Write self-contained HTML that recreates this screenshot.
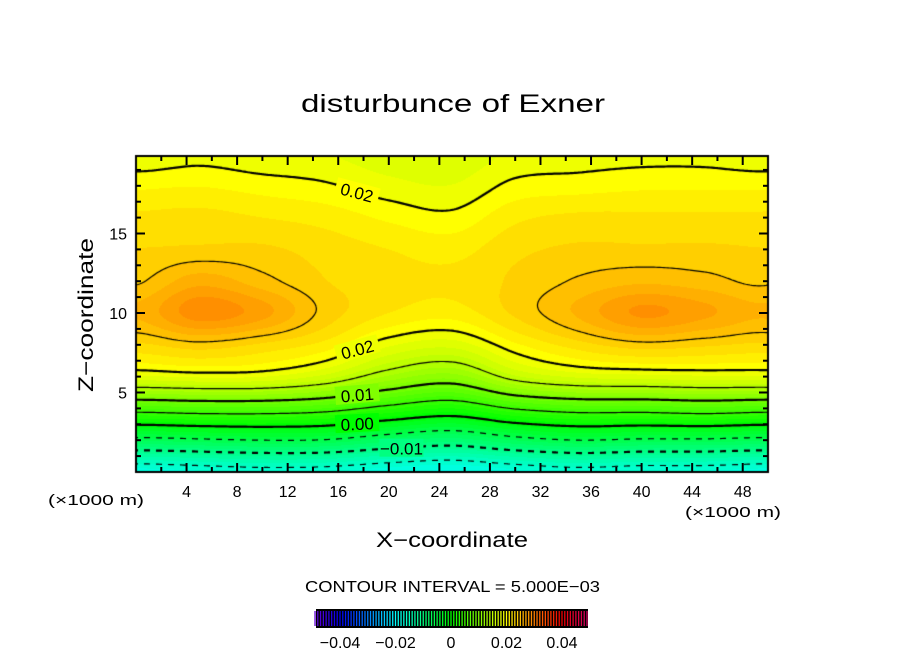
<!DOCTYPE html>
<html><head><meta charset="utf-8"><style>
html,body{margin:0;padding:0;background:#fff;}
#wrap{position:relative;width:904px;height:654px;overflow:hidden;font-family:"Liberation Sans",sans-serif;}
canvas,svg{position:absolute;left:0;top:0;}
</style></head><body>
<div id="wrap">
<canvas id="cv" width="904" height="654"></canvas>
<svg id="sv" width="904" height="654">
<text x="301" y="112" textLength="304" lengthAdjust="spacingAndGlyphs" font-size="25">disturbunce of Exner</text>
<text transform="translate(93,392) rotate(-90)" textLength="154" lengthAdjust="spacingAndGlyphs" font-size="21">Z−coordinate</text>
<text x="376" y="547" textLength="152" lengthAdjust="spacingAndGlyphs" font-size="21">X−coordinate</text>
<text x="48" y="505" textLength="96" lengthAdjust="spacingAndGlyphs" font-size="15">(×1000 m)</text>
<text x="685" y="517" textLength="96" lengthAdjust="spacingAndGlyphs" font-size="15">(×1000 m)</text>
<text x="305" y="592" textLength="295" lengthAdjust="spacingAndGlyphs" font-size="16">CONTOUR INTERVAL = 5.000E−03</text>
<g id="gticks"></g>
<g id="glabels"></g>
<g id="gcbar"></g>
</svg>
</div>
<script>
const xs=[0,5,10,15,20,25,30,35,40,45,50];
const zs=[0,2,4,6,8,10,12,14,16,18,20];
const col0=[-0.017,-0.006,0.0065,0.0185,0.0235,0.0265,0.0248,0.0238,0.0228,0.021,0.019];
const col5=[-0.0165,-0.0055,0.007,0.019,0.0245,0.0295,0.027,0.024,0.023,0.0212,0.0195];
const col10=[-0.016,-0.005,0.007,0.0188,0.0235,0.028,0.0255,0.024,0.0225,0.0207,0.019];
const col15=[-0.0162,-0.0052,0.0062,0.017,0.022,0.0245,0.0238,0.0232,0.022,0.0202,0.0188];
const col20=[-0.0172,-0.007,0.004,0.0135,0.019,0.0225,0.023,0.0225,0.021,0.0192,0.018];
const col25=[-0.0178,-0.0082,0.0025,0.0118,0.018,0.0218,0.0228,0.022,0.0204,0.0188,0.0178];
const col30=[-0.0168,-0.0062,0.0052,0.016,0.021,0.024,0.024,0.0234,0.0222,0.0204,0.019];
const col35=[-0.016,-0.005,0.0065,0.0178,0.0232,0.0265,0.0252,0.024,0.0228,0.0207,0.0193];
const col40=[-0.0165,-0.0055,0.0065,0.0182,0.0245,0.029,0.026,0.024,0.0228,0.021,0.0195];
const col45=[-0.0165,-0.0055,0.007,0.0185,0.024,0.0278,0.0255,0.024,0.0228,0.021,0.0195];
const col50=[-0.017,-0.006,0.0065,0.0185,0.0235,0.0265,0.0248,0.0238,0.0228,0.021,0.019];
const fieldCols=[col0,col5,col10,col15,col20,col25,col30,col35,col40,col45,col50];
const levels=[-0.015,-0.01,-0.005,0,0.005,0.01,0.015,0.02,0.025];
const xTicks=[4,8,12,16,20,24,28,32,36,40,44,48];
const zTicks=[5,10,15];
const cbTicks=[-0.04,-0.02,0,0.02,0.04];
const cbTickText=["−0.04","−0.02","0","0.02","0.04"];
const contourLabels=[{lv:0.02,x:17.5,from:'top',text:'0.02',rot:15},{lv:0.02,x:17.5,from:'mid',text:'0.02',rot:-15},{lv:0.01,x:17.5,from:'bot',text:'0.01',rot:-5},{lv:0,x:17.5,from:'bot',text:'0.00',rot:-3},{lv:-0.01,x:21,from:'bot',text:'−0.01',rot:0}];

const PX0=136,PX1=768,PY0=156,PY1=472,XMAX=50,ZPX=15.9;
const sx=x=>PX0+x/XMAX*(PX1-PX0);
const sz=z=>PY1-z*ZPX;
const ZMAX=(PY1-PY0)/ZPX;

function cr(p0,p1,p2,p3,t){return 0.5*((2*p1)+(-p0+p2)*t+(2*p0-5*p1+4*p2-p3)*t*t+(-p0+3*p1-3*p2+p3)*t*t*t);}
function colVal(c,z){
  const n=zs.length,h=zs[1]-zs[0];let f=z/h;let i=Math.floor(f);if(i<0)i=0;if(i>n-2)i=n-2;const t=f-i;
  const g=k=>c[Math.max(0,Math.min(n-1,k))];
  return cr(g(i-1),g(i),g(i+1),g(i+2),t);
}
function F(x,z){
  const n=xs.length,h=xs[1]-xs[0];let f=x/h;let i=Math.floor(f);if(i>n-2)i=n-2;if(i<0)i=0;const t=f-i;
  const g=k=>{if(k<0)k+=n-1;if(k>n-1)k-=n-1;return colVal(fieldCols[k],z);};
  return cr(g(i-1),g(i),g(i+1),g(i+2),t);
}
function hsl2rgb(h,s,l){h=((h%360)+360)%360;const c=(1-Math.abs(2*l-1))*s,x=c*(1-Math.abs((h/60)%2-1)),m=l-c/2;let r,g,b;
 if(h<60)[r,g,b]=[c,x,0];else if(h<120)[r,g,b]=[x,c,0];else if(h<180)[r,g,b]=[0,c,x];else if(h<240)[r,g,b]=[0,x,c];else if(h<300)[r,g,b]=[x,0,c];else [r,g,b]=[c,0,x];
 return [Math.round((r+m)*255),Math.round((g+m)*255),Math.round((b+m)*255)];}
function colorOf(v){const q=Math.floor(v/0.00125+1e-6)*0.00125;return hsl2rgb(120-q*3000,1,0.5);}

const cv=document.getElementById('cv'),ctx=cv.getContext('2d');
const W=PX1-PX0,H=PY1-PY0;
const img=ctx.createImageData(W,H);
for(let j=0;j<H;j++){const z=(PY1-(PY0+j+0.5))/ZPX;for(let i=0;i<W;i++){const x=(i+0.5)/W*XMAX;const c=colorOf(F(x,z));const k=(j*W+i)*4;img.data[k]=c[0];img.data[k+1]=c[1];img.data[k+2]=c[2];img.data[k+3]=255;}}
ctx.putImageData(img,PX0,PY0);

const S=2,NX=Math.ceil(W/S),NY=Math.ceil(H/S);
const grid=[];for(let j=0;j<=NY;j++){const r=[];const py=Math.min(PY0+j*S,PY1);for(let i=0;i<=NX;i++){const px=Math.min(PX0+i*S,PX1);r.push(F((px-PX0)/W*XMAX,(PY1-py)/ZPX));}grid.push(r);}
ctx.save();ctx.beginPath();ctx.rect(PX0,PY0,W,H);ctx.clip();
levels.forEach(lv=>{
  const thick=Math.abs(Math.round(lv/0.01)*0.01-lv)<1e-9;
  ctx.lineWidth=thick?2.2:1.2;ctx.strokeStyle='#000';ctx.beginPath();
  for(let j=0;j<NY;j++)for(let i=0;i<NX;i++){
    const x0=PX0+i*S,y0=PY0+j*S;
    const a=grid[j][i],b=grid[j][i+1],c=grid[j+1][i+1],d=grid[j+1][i];
    const pts=[];
    const e=(v1,v2,p1,p2)=>{const t=(lv-v1)/(v2-v1);return [p1[0]+(p2[0]-p1[0])*t,p1[1]+(p2[1]-p1[1])*t];};
    const P=[[x0,y0],[x0+S,y0],[x0+S,y0+S],[x0,y0+S]],V=[a,b,c,d];
    for(let k=0;k<4;k++){const v1=V[k],v2=V[(k+1)%4];if((v1<lv)!==(v2<lv))pts.push(e(v1,v2,P[k],P[(k+1)%4]));}
    if(lv<0 && Math.floor(x0/6)%2===1)continue;
    for(let k=0;k+1<pts.length;k+=2){ctx.moveTo(pts[k][0],pts[k][1]);ctx.lineTo(pts[k+1][0],pts[k+1][1]);}
  }
  ctx.stroke();
});
ctx.restore();
ctx.lineWidth=2;ctx.strokeStyle='#000';ctx.strokeRect(PX0,PY0,W,H);

const NS='http://www.w3.org/2000/svg';
function mk(tag,attrs,parent){const el=document.createElementNS(NS,tag);for(const k in attrs)el.setAttribute(k,attrs[k]);parent.appendChild(el);return el;}
const gt=document.getElementById('gticks');
for(let x=2;x<50;x+=2){const L=(x%4===0)?9:5;
  let t=mk('line',{x1:sx(x),x2:sx(x),y1:PY1,y2:PY1-L,stroke:'#000','stroke-width':2},gt);
  
  
  t=mk('line',{x1:sx(x),x2:sx(x),y1:PY0,y2:PY0+L,stroke:'#000','stroke-width':2},gt);
  
  }
for(let z=1;z<ZMAX;z+=1){const L=(z%5===0)?9:5;
  let t=mk('line',{x1:PX0,x2:PX0+L,y1:sz(z),y2:sz(z),stroke:'#000','stroke-width':2},gt);
  
  
  t=mk('line',{x1:PX1,x2:PX1-L,y1:sz(z),y2:sz(z),stroke:'#000','stroke-width':2},gt);
  
  }
xTicks.forEach(x=>{const t=mk('text',{x:sx(x),y:497,'text-anchor':'middle','font-size':16},gt);t.textContent=String(x);
  
  });
zTicks.forEach(z=>{const t=mk('text',{x:127,y:sz(z)+6,'text-anchor':'end','font-size':16},gt);t.textContent=String(z);
  
  });

const gl=document.getElementById('glabels');
contourLabels.forEach(cl=>{
  let zf=null;
  if(cl.from==='top'){for(let z=ZMAX;z>0;z-=0.01){if(F(cl.x,z)>=cl.lv){zf=z;break;}}}
  else if(cl.from==='mid'){for(let z=12;z>0;z-=0.01){if(F(cl.x,z)<=cl.lv){zf=z;break;}}}
  else{for(let z=0;z<ZMAX;z+=0.01){if(F(cl.x,z)>=cl.lv){zf=z;break;}}}
  if(zf===null)return;
  const px=sx(cl.x),py=sz(zf);const c=colorOf(F(cl.x,zf));
  const g=mk('g',{transform:`translate(${px},${py}) rotate(${cl.rot})`},gl);
  
  
  mk('rect',{x:-22,y:-9,width:44,height:18,fill:`rgb(${c[0]},${c[1]},${c[2]})`},g);
  const t=mk('text',{x:0,y:7,'text-anchor':'middle','font-size':17},g);t.textContent=cl.text;
});

const gc=document.getElementById('gcbar');
const CB0=316,CB1=588,cbx=v=>451+v/0.02*55.5;
const bg=mk('rect',{x:CB0,y:609,width:CB1-CB0,height:19,fill:'#000'},gc);


for(let k=-49;k<=49;k++){const v=k*0.001;const l=0.5-Math.max(0,Math.abs(v)-0.035)*6;const c=hsl2rgb(120-v*3000,1,Math.max(0.3,l));
  const ln=mk('line',{x1:cbx(v),x2:cbx(v),y1:611,y2:626,stroke:`rgb(${c[0]},${c[1]},${c[2]})`,'stroke-width':1.3},gc);
  
  }
cbTicks.forEach((v,i)=>{const t=mk('text',{x:cbx(v),y:648,'text-anchor':'middle','font-size':16},gc);t.textContent=cbTickText[i];
  
  });
</script>
</body></html>
